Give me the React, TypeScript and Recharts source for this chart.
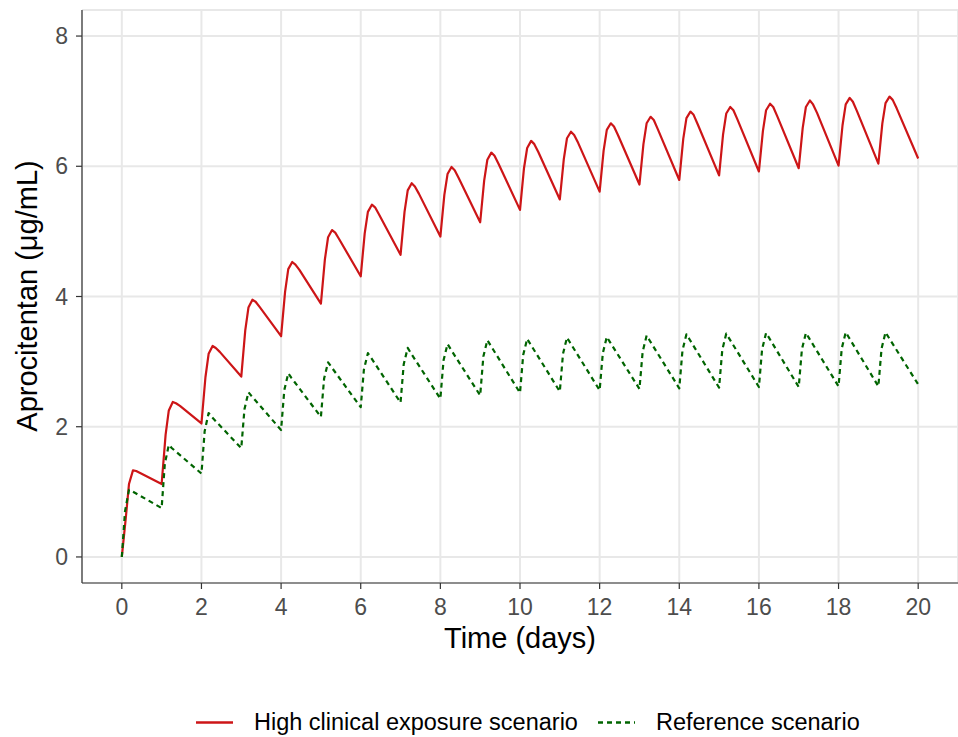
import { LineChart, Line, XAxis, YAxis, CartesianGrid } from "recharts"

// dosing days (one dose per day)
const doseDays = [0, 1, 2, 3, 4, 5, 6, 7, 8, 9, 10, 11, 12, 13, 14, 15, 16, 17, 18, 19]
const endDay = 20

// High clinical exposure scenario (ug/mL)
const redTrough = [0.0, 1.12, 2.05, 2.77, 3.39, 3.89, 4.31, 4.64, 4.92, 5.14, 5.33, 5.49, 5.61, 5.72, 5.79, 5.86, 5.92, 5.97, 6.01, 6.04, 6.12]
const redRise = [0.6, 1.88, 2.76, 3.48, 4.07, 4.57, 4.97, 5.3, 5.56, 5.78, 5.97, 6.11, 6.24, 6.34, 6.42, 6.49, 6.54, 6.59, 6.63, 6.66]
const redShoulder = [1.12, 2.25, 3.12, 3.83, 4.42, 4.91, 5.3, 5.63, 5.88, 6.1, 6.28, 6.43, 6.56, 6.66, 6.74, 6.81, 6.86, 6.91, 6.95, 6.97]
const redPeak = [1.33, 2.38, 3.24, 3.95, 4.53, 5.02, 5.41, 5.74, 5.99, 6.21, 6.39, 6.53, 6.66, 6.76, 6.84, 6.91, 6.96, 7.01, 7.05, 7.07]
const redPost = [1.32, 2.36, 3.21, 3.92, 4.49, 4.98, 5.37, 5.69, 5.94, 6.16, 6.34, 6.48, 6.61, 6.71, 6.79, 6.86, 6.91, 6.95, 6.99, 7.02]
const redFall = [1.29, 2.32, 3.15, 3.84, 4.41, 4.88, 5.26, 5.58, 5.82, 6.04, 6.22, 6.36, 6.48, 6.57, 6.65, 6.72, 6.77, 6.82, 6.85, 6.89]
const redTimes = [0.1, 0.18, 0.28, 0.36, 0.46] // time after dose: rise, shoulder, peak, post, fall

// Reference scenario (ug/mL)
const greenTrough = [0.0, 0.75, 1.28, 1.67, 1.95, 2.15, 2.3, 2.37, 2.43, 2.48, 2.52, 2.54, 2.56, 2.58, 2.59, 2.6, 2.61, 2.61, 2.62, 2.62, 2.65]
const greenRise = [0.7, 1.43, 1.93, 2.27, 2.56, 2.74, 2.88, 2.96, 3.02, 3.08, 3.1, 3.12, 3.13, 3.15, 3.17, 3.18, 3.19, 3.19, 3.2, 3.2]
const greenPeak = [1.03, 1.72, 2.21, 2.53, 2.82, 2.99, 3.13, 3.21, 3.27, 3.33, 3.35, 3.37, 3.38, 3.4, 3.42, 3.43, 3.44, 3.44, 3.45, 3.45]
const greenFall = [1.01, 1.67, 2.15, 2.47, 2.75, 2.92, 3.06, 3.13, 3.19, 3.25, 3.27, 3.29, 3.3, 3.32, 3.34, 3.35, 3.36, 3.36, 3.37, 3.37]
const greenTimes = [0.08, 0.18, 0.26]

const xMajor = [0, 2, 4, 6, 8, 10, 12, 14, 16, 18, 20]
const xMinor = [1, 3, 5, 7, 9, 11, 13, 15, 17, 19]
const yMajor = [0, 2, 4, 6, 8]
const yMinor = [1, 3, 5, 7]

const redData = doseDays
  .flatMap((d, i) => [
    { t: d, v: redTrough[i] },
    { t: d + redTimes[0], v: redRise[i] },
    { t: d + redTimes[1], v: redShoulder[i] },
    { t: d + redTimes[2], v: redPeak[i] },
    { t: d + redTimes[3], v: redPost[i] },
    { t: d + redTimes[4], v: redFall[i] },
  ])
  .concat([{ t: endDay, v: redTrough[doseDays.length] }])

const greenData = doseDays
  .flatMap((d, i) => [
    { t: d, v: greenTrough[i] },
    { t: d + greenTimes[0], v: greenRise[i] },
    { t: d + greenTimes[1], v: greenPeak[i] },
    { t: d + greenTimes[2], v: greenFall[i] },
  ])
  .concat([{ t: endDay, v: greenTrough[doseDays.length] }])

const series = [
  { name: "High clinical exposure scenario", color: "#CD1517", dash: undefined, data: redData },
  { name: "Reference scenario", color: "#006400", dash: "5 4", data: greenData },
]

const font = "'Liberation Sans', Arial, sans-serif"
const tickStyle = { fontSize: 23, fill: "#4D4D4D", fontFamily: font }

const App = () => {
  return (
    <div style={{ position: "absolute", left: 0, top: 0, width: 958, height: 737, background: "#fff" }}>
      <LineChart width={958} height={737} margin={{ top: 10, right: 0, left: 0, bottom: 0 }}>
        <XAxis
          xAxisId="top"
          orientation="top"
          type="number"
          domain={[-1, 21]}
          ticks={xMinor}
          height={0}
          tick={false}
          tickLine={false}
          axisLine={{ stroke: "#333333", strokeWidth: 1.2 }}
          allowDataOverflow
        />
        <YAxis
          yAxisId="minor"
          orientation="right"
          type="number"
          domain={[-0.4, 8.4]}
          ticks={yMinor}
          width={0}
          tick={false}
          tickLine={false}
          axisLine={false}
          allowDataOverflow
        />
        <CartesianGrid xAxisId="top" yAxisId="minor" stroke="#EBEBEB" strokeWidth={1} />
        <CartesianGrid stroke="#E8E8E8" strokeWidth={2} />
        <XAxis
          dataKey="t"
          type="number"
          domain={[-1, 21]}
          ticks={xMajor}
          height={154}
          tickSize={6}
          tickMargin={10}
          tick={tickStyle}
          tickLine={{ stroke: "#333333", strokeWidth: 1.2 }}
          axisLine={{ stroke: "#333333", strokeWidth: 1.2 }}
          allowDataOverflow
          label={{
            content: () => (
              <text x={520} y={648} textAnchor="middle" fontSize={29} fontFamily={font} fill="#000">
                Time (days)
              </text>
            ),
          }}
        />
        <YAxis
          type="number"
          domain={[-0.4, 8.4]}
          ticks={yMajor}
          width={82}
          tickSize={6}
          tickMargin={8}
          tick={tickStyle}
          tickLine={{ stroke: "#333333", strokeWidth: 1.2 }}
          axisLine={{ stroke: "#333333", strokeWidth: 1.2 }}
          allowDataOverflow
          label={{
            content: () => (
              <text
                transform="translate(37,296) rotate(-90)"
                textAnchor="middle"
                fontSize={29}
                fontFamily={font}
                fill="#000"
              >
                Aprocitentan (μg/mL)
              </text>
            ),
          }}
        />
        {series.map((s) => (
          <Line
            key={s.name}
            data={s.data}
            dataKey="v"
            name={s.name}
            type="linear"
            stroke={s.color}
            strokeWidth={2.2}
            strokeDasharray={s.dash}
            strokeLinejoin="round"
            dot={false}
            activeDot={false}
            isAnimationActive={false}
          />
        ))}
      </LineChart>
      <div
        style={{
          position: "absolute",
          left: 196,
          top: 709,
          display: "flex",
          alignItems: "center",
          fontFamily: font,
          fontSize: 23.5,
          lineHeight: "27px",
          color: "#000",
          whiteSpace: "nowrap",
        }}
      >
        {series.map((s, i) => (
          <div key={s.name} style={{ display: "flex", alignItems: "center", marginLeft: i === 0 ? 0 : 20 }}>
            <svg width={37} height={27} style={{ display: "block" }}>
              <line x1={0} x2={37} y1={13.5} y2={13.5} stroke={s.color} strokeWidth={2.4} strokeDasharray={s.dash} />
            </svg>
            <span style={{ marginLeft: 21 }}>{s.name}</span>
          </div>
        ))}
      </div>
    </div>
  )
}

export default App
